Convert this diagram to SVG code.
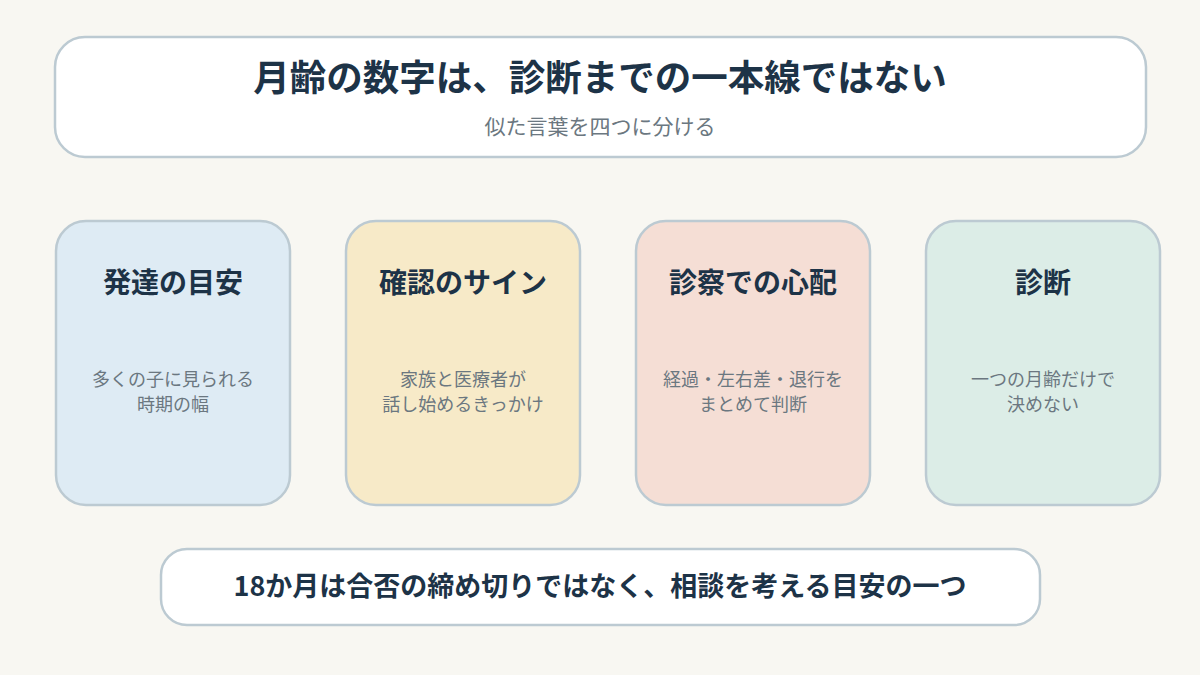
<svg xmlns="http://www.w3.org/2000/svg" width="1200" height="675" viewBox="0 0 1200 675">
<style>
.box{stroke:#bccad2;stroke-width:2.5}
.t{font-family:"Noto Sans CJK JP","Noto Sans",sans-serif;fill:#1d3347;font-weight:700;text-anchor:middle}
.s{font-family:"Noto Sans CJK JP","Noto Sans",sans-serif;fill:#6b7780;font-weight:400;text-anchor:middle}
</style>
<rect width="1200" height="675" fill="#f8f7f2"/>
<g id="header">
<rect class="box" x="55" y="37" width="1091" height="120" rx="30" fill="#ffffff"/>
<text class="t" x="600" y="91" font-size="36.5">月齢の数字は、診断までの一本線ではない</text>
<text class="s" x="600" y="134" font-size="21">似た言葉を四つに分ける</text>
</g>
<g id="card1">
<rect class="box" x="56" y="221" width="234" height="284" rx="30" fill="#deebf4"/>
<text class="t" x="173" y="293" font-size="28">発達の目安</text>
<text class="s" x="173" y="386" font-size="18">多くの子に見られる</text>
<text class="s" x="173" y="411" font-size="18">時期の幅</text>
</g>
<g id="card2">
<rect class="box" x="346" y="221" width="234" height="284" rx="30" fill="#f7eac8"/>
<text class="t" x="463" y="293" font-size="28">確認のサイン</text>
<text class="s" x="463" y="386" font-size="18">家族と医療者が</text>
<text class="s" x="463" y="411" font-size="18">話し始めるきっかけ</text>
</g>
<g id="card3">
<rect class="box" x="636" y="221" width="234" height="284" rx="30" fill="#f5ded5"/>
<text class="t" x="753" y="293" font-size="28">診察での心配</text>
<text class="s" x="753" y="386" font-size="18">経過・左右差・退行を</text>
<text class="s" x="753" y="411" font-size="18">まとめて判断</text>
</g>
<g id="card4">
<rect class="box" x="926" y="221" width="234" height="284" rx="30" fill="#dcede7"/>
<text class="t" x="1043" y="293" font-size="28">診断</text>
<text class="s" x="1043" y="386" font-size="18">一つの月齢だけで</text>
<text class="s" x="1043" y="411" font-size="18">決めない</text>
</g>
<g id="footer">
<rect class="box" x="161" y="549" width="879" height="76" rx="26" fill="#ffffff"/>
<text class="t" x="600" y="596" font-size="27">18か月は合否の締め切りではなく、相談を考える目安の一つ</text>
</g>
<g id="connectors"></g>
</svg>
